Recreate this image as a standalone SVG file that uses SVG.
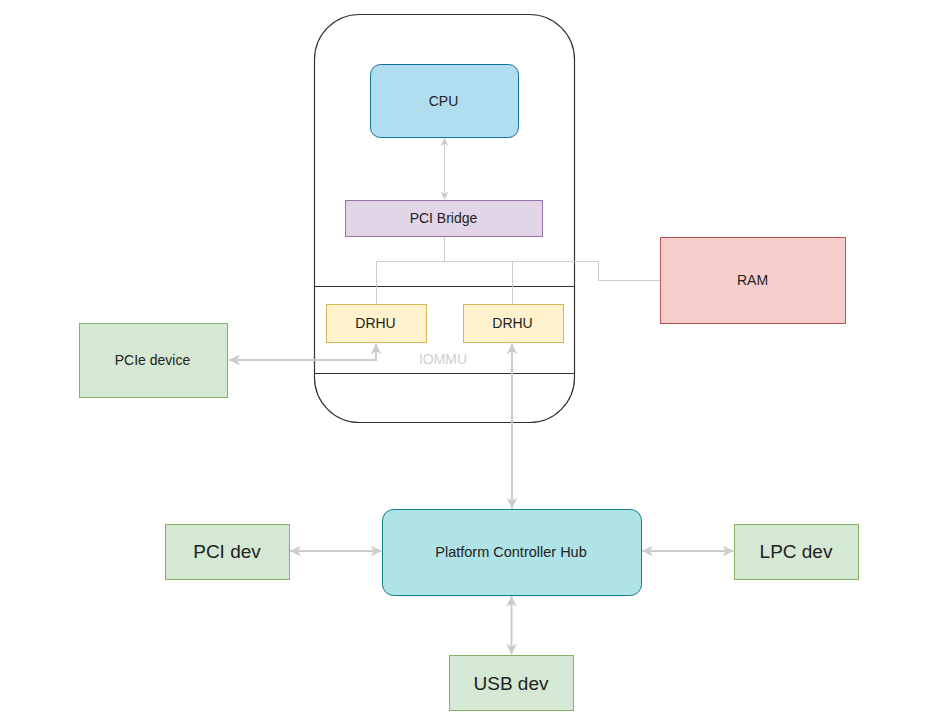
<svg xmlns="http://www.w3.org/2000/svg" width="937" height="728" viewBox="0 0 937 728">
<defs>
<style>
text{font-family:"Liberation Sans",Arial,Helvetica,sans-serif;fill:#222222;text-anchor:middle;dominant-baseline:central}
.c{fill:none;stroke:#cccccc}
.thin{stroke-width:1}
.thick{stroke-width:2}
.green{fill:#d5e8d4;stroke:#82b366}
.yellow{fill:#fff2cc;stroke:#d6b656}
</style>
<marker id="as" viewBox="0 0 10 10" refX="10" refY="5" markerWidth="8" markerHeight="8" markerUnits="userSpaceOnUse" orient="auto-start-reverse">
<path d="M0,0 L10,5 L0,10 L3,5 Z" fill="#cccccc"/>
</marker>
<marker id="al" viewBox="0 0 10 10" refX="10" refY="5" markerWidth="11" markerHeight="11" markerUnits="userSpaceOnUse" orient="auto-start-reverse">
<path d="M0,0 L10,5 L0,10 L3,5 Z" fill="#cccccc"/>
</marker>
</defs>
<rect width="937" height="728" fill="#ffffff"/>
<g id="platform">
<rect x="314.5" y="14.5" width="260" height="408" rx="45" ry="45" fill="#ffffff" stroke="#333333" stroke-width="1.2"/>
<line x1="314.5" y1="286.5" x2="574.5" y2="286.5" stroke="#333333" stroke-width="1.2"/>
<line x1="314.5" y1="373.5" x2="574.5" y2="373.5" stroke="#333333" stroke-width="1.2"/>
<text x="443" y="359" font-size="14" style="fill:#d0d0d0">IOMMU</text>
</g>
<g id="connectors">
<line class="c thin" x1="444.5" y1="138" x2="444.5" y2="199.5" marker-start="url(#as)" marker-end="url(#as)"/>
<polyline class="c thin" points="444.5,236.5 444.5,261.5"/>
<polyline class="c thin" points="376.5,304 376.5,261.5 598.5,261.5 598.5,280.5 660,280.5"/>
<line class="c thin" x1="512.5" y1="261.5" x2="512.5" y2="304"/>
<polyline class="c thick" points="229,360 376,360 376,343.5" marker-start="url(#al)" marker-end="url(#al)"/>
<line class="c thick" x1="512" y1="343.5" x2="512" y2="508.5" marker-start="url(#al)" marker-end="url(#al)"/>
<line class="c thick" x1="290" y1="551" x2="381.5" y2="551" marker-start="url(#al)" marker-end="url(#al)"/>
<line class="c thick" x1="642" y1="551" x2="733.5" y2="551" marker-start="url(#al)" marker-end="url(#al)"/>
<line class="c thick" x1="511.5" y1="596" x2="511.5" y2="654.5" marker-start="url(#al)" marker-end="url(#al)"/>
</g>
<g id="cpu">
<rect x="370.5" y="64.5" width="148" height="73" rx="10" ry="10" fill="#b1ddf0" stroke="#10739e"/>
<text x="443.5" y="100.5" font-size="14">CPU</text>
</g>
<g id="pci-bridge">
<rect x="345.5" y="200.5" width="197" height="36" fill="#e1d5e7" stroke="#9673a6"/>
<text x="443.5" y="218" font-size="14">PCI Bridge</text>
</g>
<g id="ram">
<rect x="660.5" y="237.5" width="185" height="86" fill="#f8cecc" stroke="#b85450"/>
<text x="752.5" y="280" font-size="14">RAM</text>
</g>
<g id="drhu1">
<rect class="yellow" x="326.5" y="304.5" width="100" height="38"/>
<text x="375.5" y="323" font-size="14">DRHU</text>
</g>
<g id="drhu2">
<rect class="yellow" x="463.5" y="304.5" width="100" height="38"/>
<text x="512.5" y="323" font-size="14">DRHU</text>
</g>
<g id="pcie-device">
<rect class="green" x="79.5" y="323.5" width="148" height="74"/>
<text x="152.5" y="360" font-size="14">PCIe device</text>
</g>
<g id="pch">
<rect x="382.5" y="509.5" width="259" height="86" rx="11" ry="11" fill="#b0e3e6" stroke="#0e8088"/>
<text x="511" y="551.5" font-size="14.5">Platform Controller Hub</text>
</g>
<g id="pci-dev">
<rect class="green" x="165.5" y="524.5" width="124" height="55"/>
<text x="227" y="551.5" font-size="19">PCI dev</text>
</g>
<g id="lpc-dev">
<rect class="green" x="734.5" y="524.5" width="124" height="55"/>
<text x="796" y="551.5" font-size="19">LPC dev</text>
</g>
<g id="usb-dev">
<rect class="green" x="449.5" y="655.5" width="124" height="55"/>
<text x="511" y="683" font-size="19">USB dev</text>
</g>
</svg>
